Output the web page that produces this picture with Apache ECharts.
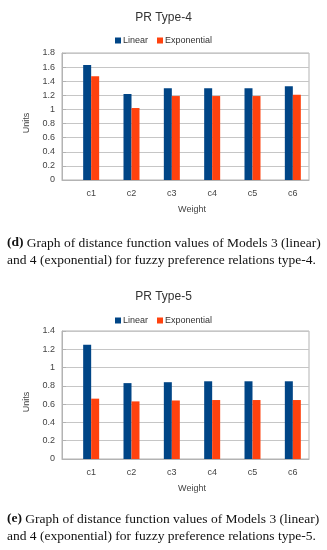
<!DOCTYPE html>
<html>
<head>
<meta charset="utf-8">
<script src="https://cdn.jsdelivr.net/npm/echarts@6/dist/echarts.min.js"></script>
<style>html,body{margin:0;padding:0;background:#fff;}#c{width:327px;height:550px;}</style>
</head>
<body>
<div id="c"></div>
<script>
const categories = ['c1', 'c2', 'c3', 'c4', 'c5', 'c6'];
const type4Linear = [1.63, 1.22, 1.30, 1.30, 1.30, 1.33];
const type4Exponential = [1.47, 1.02, 1.19, 1.19, 1.19, 1.21];
const type5Linear = [1.25, 0.83, 0.84, 0.85, 0.85, 0.85];
const type5Exponential = [0.66, 0.63, 0.64, 0.645, 0.645, 0.645];
const seriesNames = ['Linear', 'Exponential'];
const chartTitles = ['PR Type-4', 'PR Type-5'];
const captionLabels = ['(d)', '(e)'];
const captionLine1 = ' Graph of distance function values of Models 3 (linear)';
const captionLine2 = ['and 4 (exponential) for fuzzy preference relations type-4.', 'and 4 (exponential) for fuzzy preference relations type-5.'];

const BLUE = '#004586', ORANGE = '#ff420e';
const sans = '"Liberation Sans", Arial, sans-serif';
const serif = '"Liberation Serif", "Times New Roman", serif';

const panels = [
  {top: 53, bottom: 370, max: 1.8, titleTop: 7, legendTop: 31, unitsY: 123, cap: [243, 260]},
  {top: 331, bottom: 91, max: 1.4, titleTop: 286, legendTop: 311, unitsY: 402, cap: [519, 536]}
];

const grids = [], xAxes = [], yAxes = [], series = [], titles = [], legends = [], graphics = [];
const data = [[type4Linear, type4Exponential], [type5Linear, type5Exponential]];

panels.forEach((p, i) => {
  grids.push({left: 62, right: 18, top: p.top, bottom: p.bottom, show: true, borderColor: '#b3b3b3', borderWidth: 1});
  grids.push({left: 71, right: 14, top: p.top, bottom: p.bottom, show: false});
  const gf = i * 2, gb = i * 2 + 1;
  xAxes.push({gridIndex: gf, type: 'category', data: categories, axisLabel: {show: false}, axisTick: {show: false},
    axisLine: {show: true, lineStyle: {color: '#b3b3b3', width: 1}}});
  xAxes.push({gridIndex: gb, type: 'category', data: categories, axisTick: {show: false}, axisLine: {show: false},
    axisLabel: {color: '#444', fontSize: 9, fontFamily: sans, margin: 9},
    name: 'Weight', nameLocation: 'middle', nameGap: 25, nameTextStyle: {color: '#444', fontSize: 9, fontFamily: sans}});
  yAxes.push({gridIndex: gf, type: 'value', min: 0, max: p.max, interval: 0.2,
    axisLine: {show: true, lineStyle: {color: '#b3b3b3'}}, axisTick: {show: true, inside: true, length: 4, lineStyle: {color: '#b3b3b3'}},
    axisLabel: {color: '#444', fontSize: 9, fontFamily: sans, margin: 7, formatter: v => String(Math.round(v * 10) / 10)},
    splitLine: {show: true, lineStyle: {color: '#c6c6c6'}}});
  yAxes.push({gridIndex: gb, type: 'value', min: 0, max: p.max, interval: 0.2, show: false, splitLine: {show: false}});
  data[i].forEach((arr, k) => {
    series.push({type: 'bar', name: seriesNames[k], xAxisIndex: gb, yAxisIndex: gb, data: arr,
      barWidth: 8, barGap: '0%', itemStyle: {color: k === 0 ? BLUE : ORANGE}});
  });
  titles.push({text: chartTitles[i], left: 'center', top: p.titleTop,
    textStyle: {fontSize: 12, fontWeight: 'normal', color: '#333', fontFamily: sans}});
  legends.push({data: seriesNames, top: p.legendTop, left: 'center', icon: 'rect', itemWidth: 6, itemHeight: 6, itemGap: 9,
    textStyle: {fontSize: 9, color: '#333', fontFamily: sans, padding: [0, 0, 0, -3]}, selectedMode: false});
  graphics.push({type: 'text', x: 27, y: p.unitsY, rotation: Math.PI / 2,
    style: {text: 'Units', fill: '#444', font: '9px ' + sans, align: 'center', verticalAlign: 'middle'}});
  graphics.push({type: 'text', x: 7, y: p.cap[0],
    style: {rich: {b: {fontWeight: 'bold', fontFamily: serif, fontSize: 13.5, fill: '#111'}, n: {fontFamily: serif, fontSize: 13.5, fill: '#111'}},
      text: '{b|' + captionLabels[i] + '}{n|' + captionLine1 + '}', verticalAlign: 'middle'}});
  graphics.push({type: 'text', x: 7, y: p.cap[1],
    style: {text: captionLine2[i], font: '13.5px ' + serif, fill: '#111', verticalAlign: 'middle'}});
});

const chart = echarts.init(document.getElementById('c'));
chart.setOption({
  animation: false,
  title: titles,
  legend: legends,
  grid: grids,
  xAxis: xAxes,
  yAxis: yAxes,
  series: series,
  graphic: graphics
});
</script>
</body>
</html>
